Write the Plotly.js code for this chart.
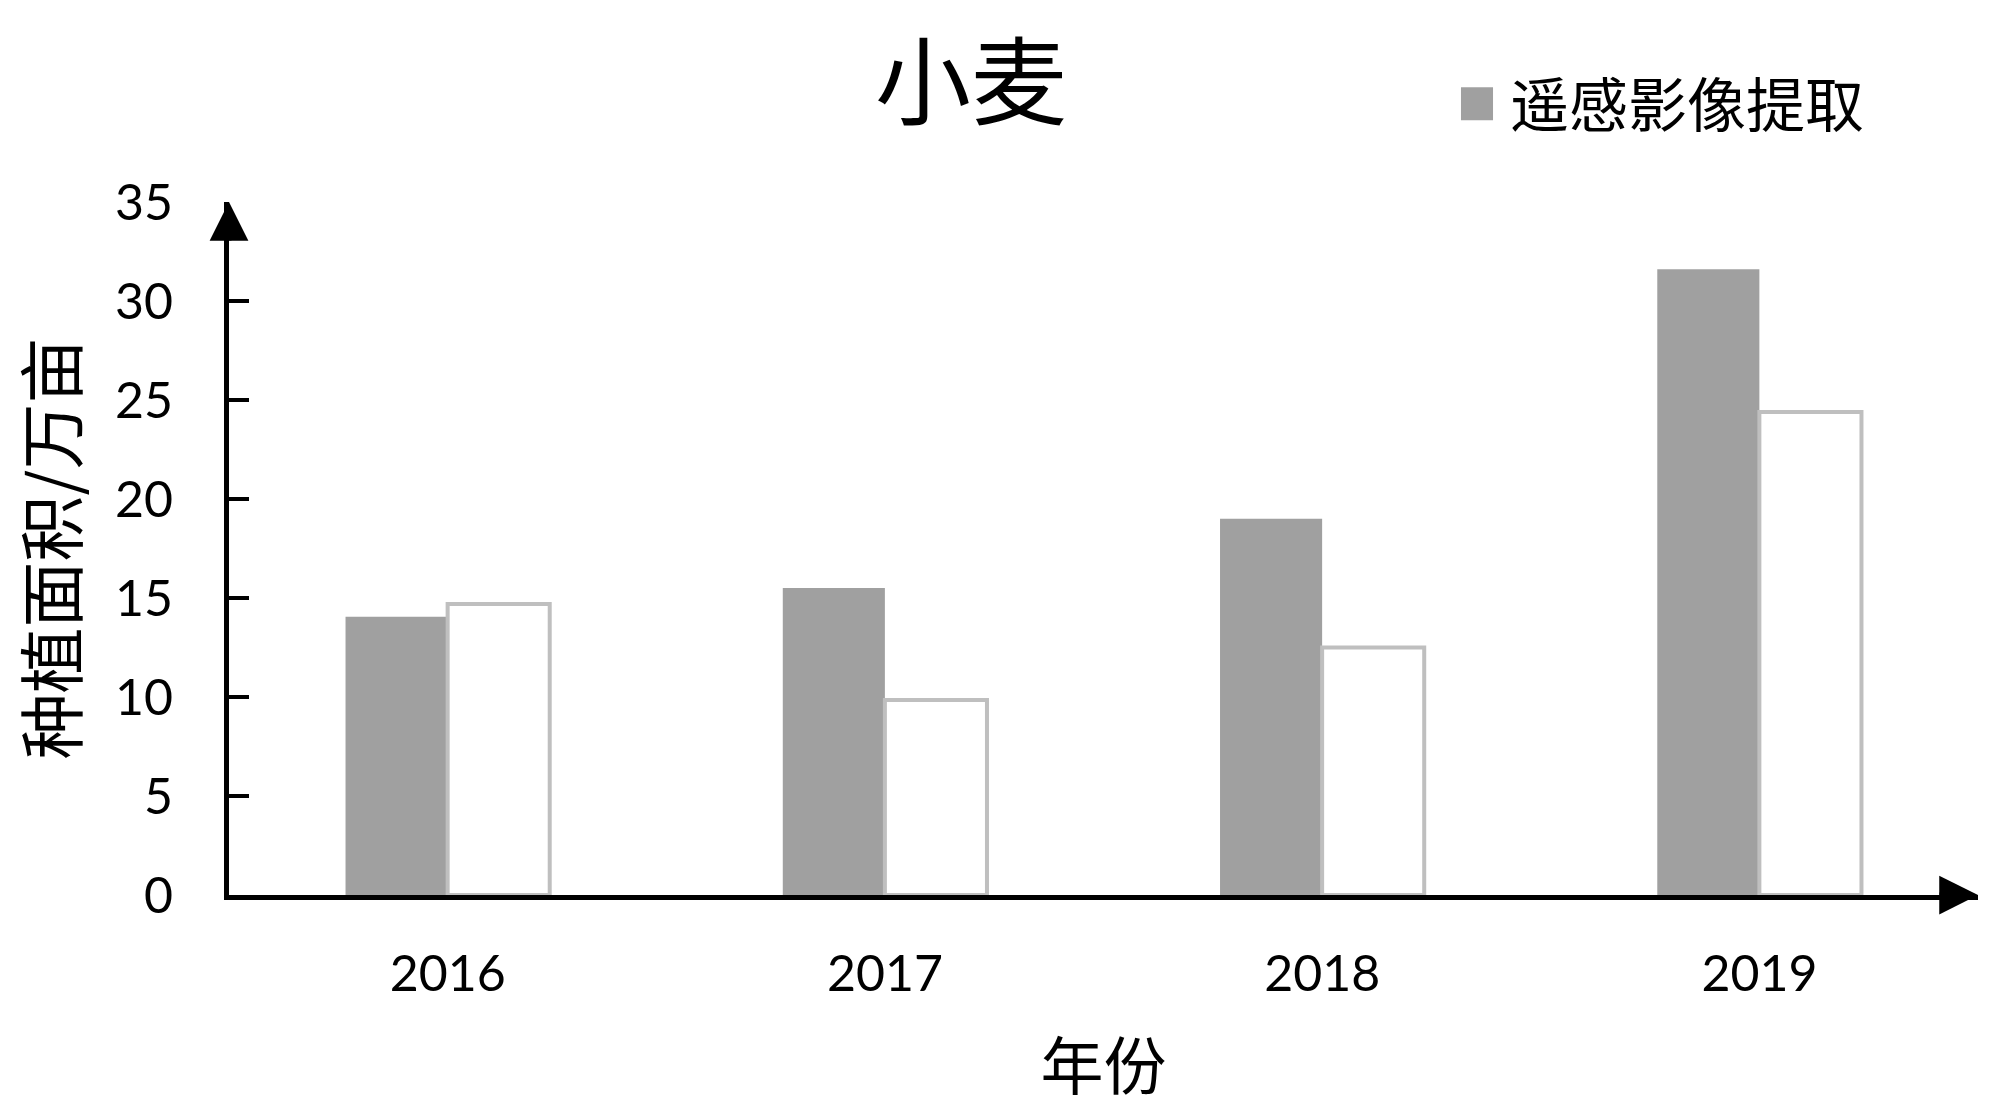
<!DOCTYPE html>
<html>
<head>
<meta charset="utf-8">
<script src="https://cdn.plot.ly/plotly-3.0.1.min.js"></script>
<style>
html,body{margin:0;padding:0;background:#fff;}
#chart{width:2000px;height:1118px;}
</style>
</head>
<body>
<div id="chart"></div>
<script>
// values
const years=['2016','2017','2018','2019'];
const remoteArea=[14.05,15.5,19.0,31.6];
const otherArea=[14.7,9.85,12.5,24.4];
const yTicks=[0,5,10,15,20,25,30,35];

const cjk='"Noto Sans CJK SC", sans-serif';
const num='Lato, "Noto Sans CJK SC", sans-serif';

var data=[
  {
    x:years,
    y:remoteArea,
    type:'bar',
    name:'遥感影像提取',
    marker:{color:'#a0a0a0',line:{width:0}},
  },
  {
    x:years,
    y:otherArea,
    type:'bar',
    name:'统计数据',
    showlegend:false,
    marker:{color:'#ffffff',line:{color:'#bfbfbf',width:4}},
  }
];

var layout={
  width:2000,
  height:1118,
  margin:{l:229,r:22,t:202,b:223,autoexpand:false},
  paper_bgcolor:'#fff',
  plot_bgcolor:'#fff',
  font:{family:num,size:50,color:'#000'},
  barmode:'group',
  bargap:0.533,
  bargroupgap:0,
  title:{
    text:'小麦',
    font:{family:cjk,size:96,color:'#000'},
    xref:'container',x:0.4855,xanchor:'center',
    yref:'container',y:0.925,yanchor:'middle'
  },
  showlegend:true,
  legend:{
    xref:'container',x:0.735,xanchor:'left',
    yref:'container',y:0.907,yanchor:'middle',
    bgcolor:'rgba(0,0,0,0)',
    font:{family:cjk,size:59,color:'#000'}
  },
  xaxis:{
    type:'category',
    range:[-0.5,3.5],
    showline:true,linecolor:'#000',linewidth:5,
    ticks:'',showgrid:false,zeroline:false,
    tickfont:{family:num,size:50,color:'#000'},
    ticklabelstandoff:31,
    title:{text:'年份',font:{family:cjk,size:63,color:'#000'},standoff:45}
  },
  yaxis:{
    range:[0,35],
    tickvals:yTicks,
    showline:true,linecolor:'#000',linewidth:5,
    ticks:'inside',ticklen:20,tickwidth:4,tickcolor:'#000',
    showgrid:false,zeroline:false,
    tickfont:{family:num,size:50,color:'#000'},
    ticklabelstandoff:41,
    title:{text:'种植面积/万亩',font:{family:cjk,size:66,color:'#000'},standoff:30}
  },
  annotations:[
    // arrow heads on the two axes
    {xref:'x',yref:'y',x:-0.5,y:35,ax:0,ay:40,text:'',showarrow:true,
     arrowhead:2,arrowwidth:5,arrowsize:1.55,arrowcolor:'#000'},
    {xref:'x',yref:'y',x:3.5,y:0,ax:-40,ay:0,text:'',showarrow:true,
     arrowhead:2,arrowwidth:5,arrowsize:1.55,arrowcolor:'#000'}
  ]
};

Plotly.newPlot('chart',data,layout,{staticPlot:true}).then(function(gd){
  // bigger legend swatch, not clipped by the legend box
  gd.querySelectorAll('.legend [clip-path]').forEach(function(el){
    el.removeAttribute('clip-path');
  });
  gd.querySelectorAll('.legend .legendpoints path').forEach(function(p){
    p.setAttribute('transform','translate(7,0) scale(2.67,2.75)');
  });
});
</script>
</body>
</html>
